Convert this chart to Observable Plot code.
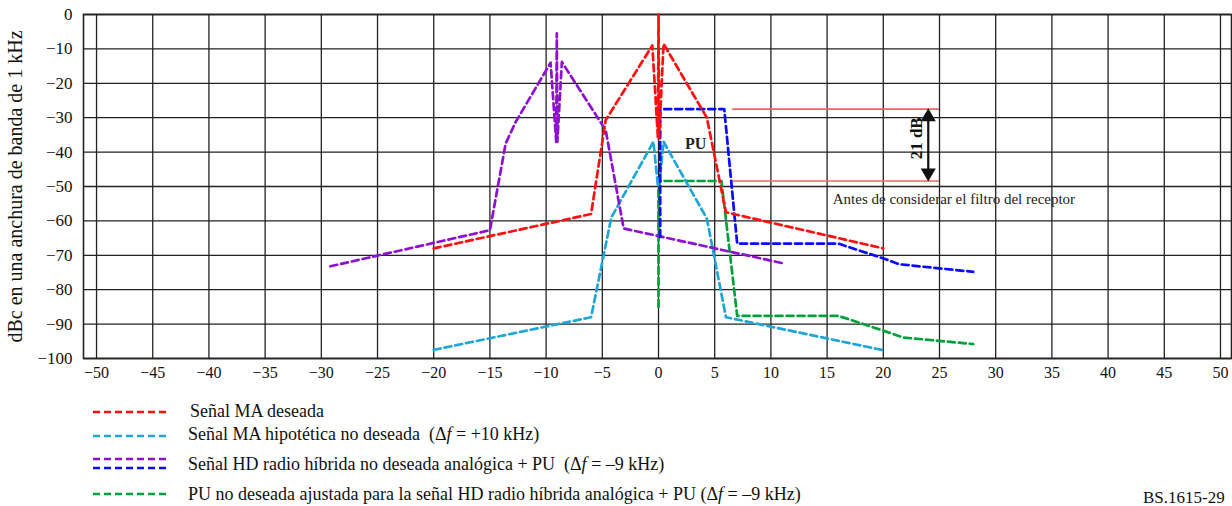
<!DOCTYPE html>
<html>
<head>
<meta charset="utf-8">
<script src="https://cdn.jsdelivr.net/npm/d3@7"></script>
<script src="https://cdn.jsdelivr.net/npm/@observablehq/plot@0.6"></script>
<style>
  html, body { margin: 0; padding: 0; background: #fff; }
  #wrap { position: relative; width: 1232px; height: 506px; font-family: "Liberation Serif", "Times New Roman", serif; color: #111; overflow: hidden; }
  #chart { position: absolute; left: 0; top: 0; }
  .lg { position: absolute; font-size: 18px; line-height: 1; transform: translateY(-50%); white-space: pre; }
  #swatches { position: absolute; left: 0; top: 0; }
</style>
</head>
<body>
<div id="wrap">
  <div id="chart"></div>
</div>
<script>
// ---- data ----
const xTicks = [-50, -45, -40, -35, -30, -25, -20, -15, -10, -5, 0, 5, 10, 15, 20, 25, 30, 35, 40, 45, 50];
const yTicks = [0, -10, -20, -30, -40, -50, -60, -70, -80, -90, -100];

// Señal MA deseada (red)
const maX = [-20, -6, -4.7, -0.55, -0.05, 0, 0.05, 0.45, 4.3, 6, 20];
const maY = [-68, -58, -30.7, -9, -36, 0, -36, -8.5, -30, -57.5, -68];

// Señal MA hipotética no deseada (cyan)
const hypX = [-20, -6, -4.2, -0.45, -0.05, 0.05, 0.45, 4.3, 6, 20];
const hypY = [-97.5, -88, -59, -37, -50, -50, -37, -59.3, -88, -97.6];

// Señal HD radio híbrida no deseada – analógica (purple)
const hdAnX = [-29.2, -15, -13.6, -12.7, -9.6, -9.1, -9.05, -9, -8.6, -4.7, -3.1, 11.2];
const hdAnY = [-73.2, -62.7, -37.5, -31.2, -14, -37, -5.5, -37, -13.8, -33.6, -62.2, -72.4];

// Señal HD radio híbrida no deseada – PU (blue)
const hdPuX = [0.15, 0.15, 5.85, 7.0, 16, 20.1, 21.4, 28];
const hdPuY = [-64.7, -27.5, -27.5, -66.6, -66.6, -71, -72.6, -74.8];

// PU no deseada ajustada (green)
const puAdjX = [0, 0, 5.6, 7.0, 16, 19.9, 21.8, 28];
const puAdjY = [-85, -48.4, -48.4, -87.6, -87.6, -91.8, -93.9, -95.8];

// annotation
const refLevels = [-27.5, -48.4];
const refX1 = 6.6, refX2 = 25;
const arrowX = 24.0;
const arrowTop = -29.8, arrowBottom = -46.0;

const seriesNames = [
  "Señal MA deseada",
  "Señal MA hipotética no deseada",
  "Señal HD radio híbrida no deseada analógica + PU",
  "PU no deseada ajustada para la señal HD radio híbrida analógica + PU"
];
const colors = { red: "#ff1010", cyan: "#1ea6d6", purple: "#8e10d0", blue: "#0a0aff", green: "#00a03a" };

// ---- build ----
const rows = (xs, ys) => xs.map((x, i) => ({ x, y: ys[i] }));
const fmt = d => d < 0 ? "\u2212" + (-d) : String(d);
const dash = { strokeWidth: 2.7, strokeDasharray: "7,4", strokeLinejoin: "round" };

const chart = Plot.plot({
  width: 1232,
  height: 392,
  marginLeft: 83,
  marginRight: 1,
  marginTop: 14,
  marginBottom: 34,
  style: { fontFamily: "Liberation Serif, Times New Roman, serif", fontSize: "14px", background: "transparent", color: "#111" },
  x: { domain: [-51.16, 50.98], label: null },
  y: { domain: [-100, 0], label: null },
  marks: [
    Plot.gridX(xTicks, { stroke: "#222", strokeOpacity: 1, strokeWidth: 1.3 }),
    Plot.gridY(yTicks, { stroke: "#222", strokeOpacity: 1, strokeWidth: 1.3 }),
    Plot.frame({ stroke: "#222", strokeWidth: 1.6 }),
    Plot.ruleY(refLevels, { y: d => d, x1: refX1, x2: refX2, stroke: "#f06464", strokeWidth: 1.6 }),
    Plot.line(rows(puAdjX, puAdjY), { x: "x", y: "y", stroke: colors.green, ...dash }),
    Plot.line(rows(hypX, hypY), { x: "x", y: "y", stroke: colors.cyan, ...dash }),
    Plot.line(rows(hdAnX, hdAnY), { x: "x", y: "y", stroke: colors.purple, ...dash }),
    Plot.line(rows(hdPuX, hdPuY), { x: "x", y: "y", stroke: colors.blue, ...dash }),
    Plot.line(rows(maX, maY), { x: "x", y: "y", stroke: colors.red, ...dash }),
    Plot.ruleX([arrowX], { y1: arrowTop, y2: arrowBottom, stroke: "#111", strokeWidth: 2.2 }),
    Plot.dot([{ x: arrowX, y: arrowTop, r: 0 }, { x: arrowX, y: arrowBottom, r: 180 }], { x: "x", y: "y", rotate: "r", symbol: "triangle", r: 5.6, fill: "#111", stroke: "none" }),
    Plot.text(["21 dB"], { x: 22.95, y: -36, rotate: -90, fontWeight: "bold", fontSize: 17, fill: "#111" }),
    Plot.text(["PU"], { x: 3.3, y: -37.5, fontWeight: "bold", fontSize: 16, fill: "#222" }),
    Plot.text(["Antes de considerar el filtro del receptor"], { x: 15.5, y: -53.8, textAnchor: "start", fontSize: 15, fill: "#222" }),
    Plot.text(["dBc en una anchura de banda de 1 kHz"], { frameAnchor: "left", textAnchor: "middle", dx: -68, rotate: -90, fontSize: 20, fill: "#111" }),
    Plot.axisX(xTicks, { tickSize: 0, tickPadding: 8, tickFormat: fmt, fontSize: 16, label: null }),
    Plot.axisY(yTicks, { tickSize: 0, tickPadding: 11, tickFormat: fmt, fontSize: 17, label: null })
  ]
});
document.getElementById("chart").appendChild(chart);

// ---- legend (below the SVG) ----
const wrap = document.getElementById("wrap");
const ns = "http://www.w3.org/2000/svg";
const sw = document.createElementNS(ns, "svg");
sw.setAttribute("id", "swatches");
sw.setAttribute("width", 1232);
sw.setAttribute("height", 506);
const swatchRows = [
  { c: colors.red, y: 412 },
  { c: colors.cyan, y: 436 },
  { c: colors.purple, y: 459 },
  { c: colors.blue, y: 468 },
  { c: colors.green, y: 494 }
];
swatchRows.forEach(s => {
  const l = document.createElementNS(ns, "line");
  l.setAttribute("x1", 93); l.setAttribute("x2", 166);
  l.setAttribute("y1", s.y); l.setAttribute("y2", s.y);
  l.setAttribute("stroke", s.c); l.setAttribute("stroke-width", 2.7);
  l.setAttribute("stroke-dasharray", "7,4");
  sw.appendChild(l);
});
wrap.appendChild(sw);

const legendTexts = [
  { html: seriesNames[0], x: 190, y: 411, size: 18 },
  { html: seriesNames[1] + "  (Δ<i>f</i> = +10 kHz)", x: 188, y: 434, size: 18 },
  { html: seriesNames[2] + "  (Δ<i>f</i> = –9 kHz)", x: 188, y: 464, size: 18 },
  { html: seriesNames[3] + " (Δ<i>f</i> = –9 kHz)", x: 188, y: 494, size: 18 },
  { html: "BS.1615-29", x: 1143, y: 497, size: 17 }
];
legendTexts.forEach(t => {
  const d = document.createElement("div");
  d.className = "lg";
  d.style.left = t.x + "px";
  d.style.top = t.y + "px";
  d.style.fontSize = t.size + "px";
  d.innerHTML = t.html;
  wrap.appendChild(d);
});
</script>
</body>
</html>
